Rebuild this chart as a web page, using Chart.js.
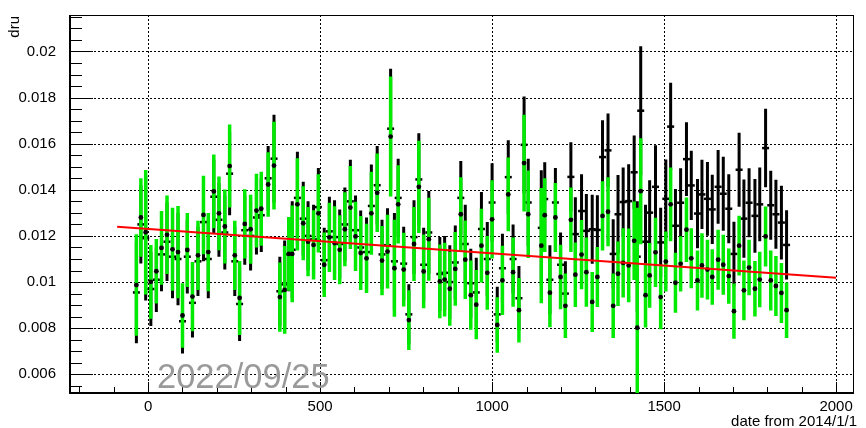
<!DOCTYPE html>
<html>
<head>
<meta charset="utf-8">
<script src="https://cdn.jsdelivr.net/npm/chart.js@4.4.0/dist/chart.umd.min.js"></script>
<style>
  html, body { margin: 0; padding: 0; background: #fff; }
</style>
</head>
<body>
<canvas id="myChart" width="866" height="428"></canvas>
<script>
// days since 2014/1/1
const days = [
  -34, -21, -7, 8, 24, 39, 55, 71, 87, 100, 114, 129, 145, 161, 175, 191, 206, 223, 237, 252,
  266, 281, 298, 315, 329, 349, 366, 383, 397, 409, 419, 434, 451, 465, 481, 495, 512, 527, 542, 557, 572,
  588, 603, 618, 635, 649, 666, 680, 696, 705, 716, 727, 743, 758, 773, 787, 801, 816, 848, 862, 877, 893,
  909, 922, 938, 954, 969, 986, 1000, 1015, 1030, 1047, 1061, 1078, 1093, 1105, 1143, 1153, 1168, 1184, 1199, 1213,
  1229, 1242, 1260, 1274, 1291, 1306, 1321, 1337, 1352, 1366, 1381, 1397, 1413, 1422, 1432, 1446, 1458, 1475, 1490, 1505, 1519, 1533,
  1548, 1565, 1579, 1597, 1610, 1626, 1640, 1657, 1672, 1688, 1703, 1718, 1732, 1747, 1764, 1778, 1795, 1810, 1825, 1841, 1856
];

// green graph (black markers)
const greenVals = [
  .00987, .01280, .01216, .01001, .01047, .01148, .01205, .01142, .01130, .00855, .01139, .00937, .01116, .01291, .01130, .01393, .01298, .01241, .01503, .01116,
  .00931, .01252, .01229, .01310, .01318, .01423, .01505, .00935, .00966, .01122, .01122, .01337, .01255, .01175, .01161, .01298, .01075, .01194, .01169, .01140, .01229,
  .01323, .01198, .01126, .01103, .01298, .01387, .01093, .01132, .01631, .01060, .01337, .01054, .00835, .01165, .01413, .01046, .01186, .01003, .01011, .00971, .01057,
  .01294, .01097, .00943, .00902, .01158, .01040, .01272, .00814, .01007, .01380, .01043, .00878, .01516, .01294, .01158, .01290, .00954, .01280, .01022, .00897,
  .01270, .01032, .01119, .01043, .00914, .01022, .01287, .01305, .00897, .01036, .01083, .01072, .01179, .00802, .01394, .00943, .01029, .01129, .00935, .01089, .01337, .00997,
  .01079, .01227, .01103, .01007, .01072, .01054, .01022, .01097, .01075, .01026, .00874, .01158, .00964, .01063, .00971, .01011, .01198, .01007, .00983, .00953, .00878
];
const greenErr = [
  .0022, .0017, .0027, .0016, .0014, .0016, .0017, .0018, .0020, .0014, .0016, .0015, .0015, .0017, .0017, .0016, .0016, .0016, .0018, .0015,
  .0016, .0015, .0015, .0016, .0016, .0014, .0019, .0015, .0019, .0016, .0021, .0020, .0016, .0015, .0015, .0017, .0014, .0015, .0016, .0015, .0016,
  .0018, .0015, .0016, .0015, .0018, .0017, .0015, .0016, .0026, .0021, .0017, .0016, .0013, .0016, .0020, .0016, .0018, .0016, .0016, .0016, .0016,
  .0016, .0017, .0015, .0015, .0016, .0016, .0017, .0012, .0015, .0016, .0015, .0014, .0021, .0019, .0025, .0016, .0015, .0015, .0014, .0014,
  .0014, .0014, .0015, .0015, .0013, .0013, .0015, .0015, .0014, .0014, .0015, .0016, .0017, .0052, .0023, .0014, .0014, .0015, .0014, .0013, .0016, .0013,
  .0012, .0014, .0013, .0013, .0014, .0013, .0012, .0013, .0013, .0012, .0012, .0013, .0013, .0012, .0012, .0012, .0013, .0013, .0013, .0013, .0012
];

// black graph
const blackVals = [
  .00955, .01250, .01190, .00970, .01010, .01120, .01175, .01110, .01100, .00830, .01110, .00910, .01090, .01260, .01100, .01370, .01270, .01215, .01470, .01090,
  .00905, .01225, .01200, .01280, .01290, .01450, .01535, .00960, .00990, .01120, .01140, .01365, .01275, .01200, .01185, .01325, .01095, .01220, .01195, .01165, .01250,
  .01350, .01225, .01150, .01130, .01330, .01420, .01120, .01160, .01665, .01090, .01365, .01080, .00860, .01195, .01445, .01075, .01215, .01035, .01040, .01000, .01085,
  .01365, .01165, .00995, .00955, .01230, .01100, .01345, .00860, .01060, .01455, .01100, .00930, .01595, .01345, .01235, .01360, .01010, .01345, .01075, .00950,
  .01456, .01208, .01308, .01222, .01229, .01226, .01542, .01571, .01122, .01294, .01347, .01351, .01476, .01110, .01743, .01175, .01301, .01413, .01172, .01361, .01674, .01244,
  .01344, .01533, .01419, .01297, .01380, .01361, .01315, .01413, .01383, .01318, .01122, .01487, .01275, .01344, .01287, .01337, .01581, .01333, .01294, .01258, .01161
];
const blackErr = [
  .0022, .0017, .0027, .0016, .0014, .0016, .0017, .0018, .0020, .0014, .0016, .0015, .0015, .0017, .0017, .0016, .0016, .0016, .0018, .0015,
  .0016, .0015, .0015, .0016, .0016, .0014, .0019, .0015, .0019, .0016, .0021, .0020, .0016, .0015, .0015, .0017, .0014, .0015, .0016, .0015, .0016,
  .0018, .0015, .0016, .0015, .0018, .0017, .0015, .0016, .0026, .0021, .0017, .0016, .0013, .0016, .0020, .0016, .0018, .0016, .0016, .0016, .0016,
  .0016, .0017, .0015, .0015, .0016, .0016, .0017, .0012, .0015, .0016, .0015, .0014, .0021, .0019, .0025, .0016, .0015, .0015, .0014, .0014,
  .0015, .0016, .0016, .0016, .0015, .0015, .0016, .0016, .0015, .0017, .0015, .0016, .0016, .0024, .0028, .0016, .0014, .0018, .0015, .0017, .0019, .0016,
  .0015, .0016, .0015, .0015, .0015, .0016, .0015, .0016, .0016, .0015, .0014, .0016, .0017, .0015, .0016, .0016, .0017, .0015, .0015, .0016, .0015
];

// linear fit
const fitX = [-90, 2000];
const fitY = [0.01240, 0.01019];

const xTicks = [0, 500, 1000, 1500, 2000];
const xTickLabels = ['0', '500', '1000', '1500', '2000'];
const yTicks = [0.006, 0.008, 0.01, 0.012, 0.014, 0.016, 0.018, 0.02];
const yTickLabels = ['0.006', '0.008', '0.01', '0.012', '0.014', '0.016', '0.018', '0.02'];

const FONT = "'Liberation Sans', Arial, sans-serif";

const errorBars = {
  id: 'errorBars',
  beforeDatasetDraw(chart, args) {
    const ds = chart.data.datasets[args.index];
    if (!ds.errors) return;
    const {ctx, chartArea: a, scales: {x, y}} = chart;
    ctx.save();
    ctx.beginPath();
    ctx.rect(a.left, a.top, a.right - a.left, a.bottom - a.top);
    ctx.clip();
    ctx.strokeStyle = ds.barColor;
    ctx.lineWidth = ds.barWidth;
    ctx.beginPath();
    ds.data.forEach((p, i) => {
      const px = x.getPixelForValue(p.x);
      ctx.moveTo(px, y.getPixelForValue(p.y + ds.errors[i]));
      ctx.lineTo(px, y.getPixelForValue(p.y - ds.errors[i]));
    });
    ctx.stroke();
    ctx.restore();
  }
};

// ROOT style frame, dotted grid and inside ticks
const frame = {
  id: 'frame',
  beforeDatasetsDraw(chart) {
    const {ctx, chartArea: a, scales: {x, y}} = chart;
    ctx.save();
    ctx.strokeStyle = '#000';
    ctx.lineWidth = 1;
    ctx.setLineDash([2, 2]);
    ctx.beginPath();
    xTicks.forEach(v => {
      const px = Math.round(x.getPixelForValue(v)) + 0.5;
      ctx.moveTo(px, a.top); ctx.lineTo(px, a.bottom);
    });
    yTicks.forEach(v => {
      const py = Math.round(y.getPixelForValue(v)) + 0.5;
      ctx.moveTo(a.left, py); ctx.lineTo(a.right, py);
    });
    ctx.stroke();
    ctx.setLineDash([]);

    ctx.beginPath();
    for (let v = 0.0055; v < y.max; v += 0.0005) {
      const py = Math.round(y.getPixelForValue(v)) + 0.5;
      const major = Math.abs(v / 0.002 - Math.round(v / 0.002)) < 1e-6;
      ctx.moveTo(a.left, py); ctx.lineTo(a.left + (major ? 23 : 12), py);
    }
    for (let d = -200; d <= 2000; d += 100) {
      const px = Math.round(x.getPixelForValue(d)) + 0.5;
      ctx.moveTo(px, a.bottom); ctx.lineTo(px, a.bottom - (d % 500 === 0 ? 11 : 6));
    }
    ctx.stroke();

    ctx.lineWidth = 1;
    ctx.strokeRect(a.left + 0.5, a.top + 0.5, a.right - a.left - 1, a.bottom - a.top - 1);
    ctx.lineWidth = 2;
    ctx.beginPath();
    ctx.moveTo(a.left, a.top); ctx.lineTo(a.left, a.bottom);
    ctx.lineTo(a.right, a.bottom);
    ctx.stroke();
    ctx.restore();
  },
  afterDraw(chart) {
    const {ctx, chartArea: a} = chart;
    ctx.save();
    ctx.fillStyle = '#000';
    ctx.font = '15px ' + FONT;
    ctx.textAlign = 'right';
    ctx.textBaseline = 'middle';
    ctx.fillText('date from 2014/1/1', a.right + 3, 422);
    ctx.translate(15, a.top + 1);
    ctx.rotate(-Math.PI / 2);
    ctx.fillText('dru', 0, 0);
    ctx.restore();

    ctx.save();
    ctx.fillStyle = '#9a9a9a';
    ctx.font = '34.5px ' + FONT;
    ctx.textAlign = 'left';
    ctx.textBaseline = 'alphabetic';
    ctx.fillText('2022/09/25', 157, 388);
    ctx.restore();
  }
};

const toPoints = (xs, ys) => xs.map((v, i) => ({x: v, y: ys[i]}));

const config = {
  data: {
    datasets: [
      {
        type: 'line',
        data: toPoints(fitX, fitY),
        borderColor: 'rgb(255, 0, 0)',
        borderWidth: 2,
        pointRadius: 0,
        fill: false
      },
      {
        type: 'scatter',
        data: toPoints(days, greenVals),
        errors: greenErr,
        barColor: 'rgb(0, 235, 0)',
        barWidth: 3.5,
        pointStyle: 'circle',
        pointRadius: 2.4,
        pointBackgroundColor: '#000',
        pointBorderWidth: 0
      },
      {
        type: 'scatter',
        data: toPoints(days, blackVals),
        errors: blackErr,
        barColor: '#000',
        barWidth: 3,
        pointStyle: 'line',
        pointRadius: 3.5,
        pointBorderColor: '#000',
        pointBorderWidth: 2.5
      }
    ]
  },
  options: {
    responsive: false,
    animation: false,
    devicePixelRatio: 1,
    layout: { padding: { top: 11, right: 12, left: 0, bottom: 0 } },
    plugins: { legend: { display: false }, tooltip: { enabled: false } },
    scales: {
      x: {
        type: 'linear',
        min: -227,
        max: 2052,
        grid: { display: false },
        border: { display: false },
        afterBuildTicks: s => { s.ticks = xTicks.map(v => ({value: v})); },
        afterFit: s => { s.height = 35; },
        ticks: {
          autoSkip: false,
          maxRotation: 0,
          padding: -3,
          color: '#000',
          font: { family: FONT, size: 15 },
          callback: (v, i) => xTickLabels[i]
        }
      },
      y: {
        type: 'linear',
        min: 0.00519,
        max: 0.02158,
        grid: { display: false },
        border: { display: false },
        afterBuildTicks: s => { s.ticks = yTicks.map(v => ({value: v})); },
        afterFit: s => { s.width = 70; },
        ticks: {
          autoSkip: false,
          padding: 6,
          color: '#000',
          font: { family: FONT, size: 15 },
          callback: (v, i) => yTickLabels[i]
        }
      }
    }
  },
  plugins: [frame, errorBars]
};

const myChart = new Chart(document.getElementById('myChart'), config);
</script>
</body>
</html>
